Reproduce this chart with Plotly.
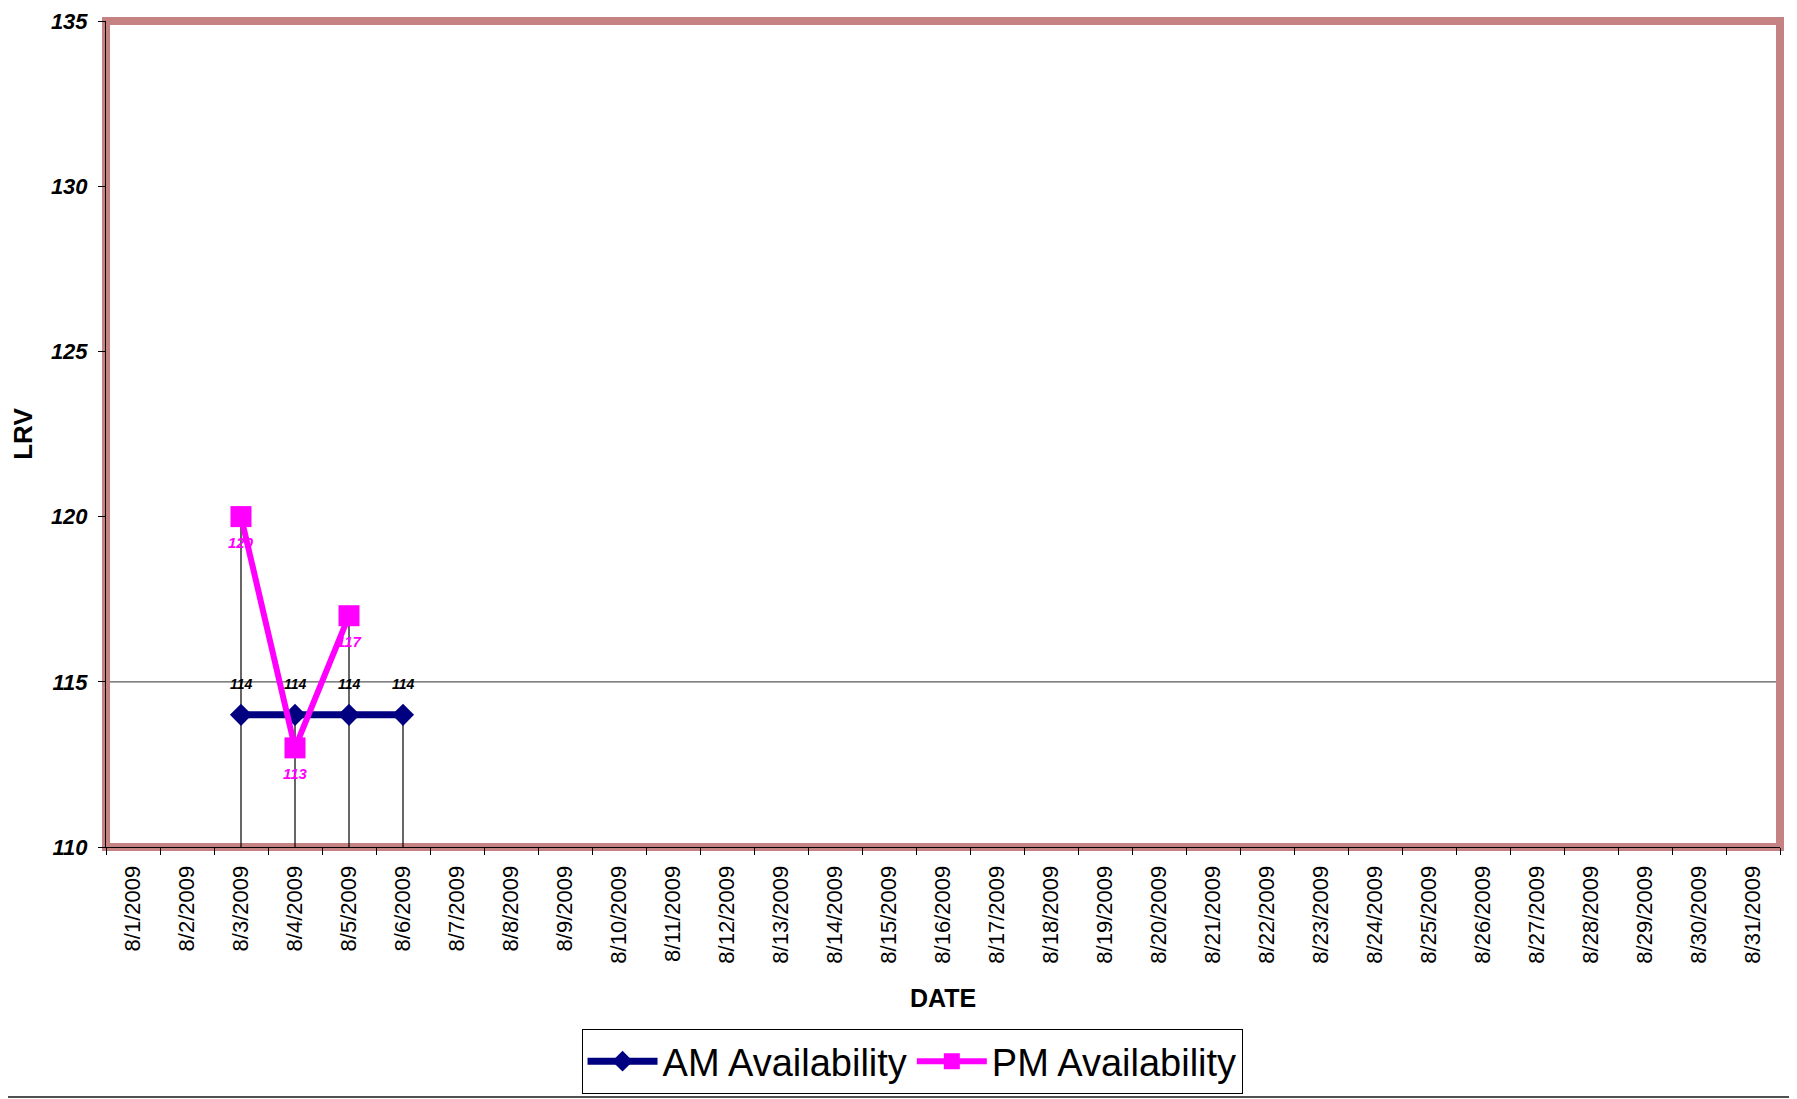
import plotly.graph_objects as go

# ---- data ----
dates = [f"8/{d}/2009" for d in range(1, 32)]
am_values = [None, None, 114, 114, 114, 114] + [None] * 25
pm_values = [None, None, 120, 113, 117] + [None] * 26
reference_level = 115
y_min, y_max = 110, 135
y_ticks = [110, 115, 120, 125, 130, 135]

AM_NAME = "AM Availability"
PM_NAME = "PM Availability"
FONT = "Liberation Sans, Arial, sans-serif"

fig = go.Figure()

# drop lines from the highest point of each date down to the axis floor
drop_x, drop_y = [], []
for d, a, p in zip(dates, am_values, pm_values):
    vals = [v for v in (a, p) if v is not None]
    if vals:
        drop_x += [d, d, None]
        drop_y += [max(vals), y_min, None]
fig.add_trace(go.Scatter(x=drop_x, y=drop_y, mode="lines",
                         line=dict(color="black", width=1.2),
                         showlegend=False, hoverinfo="skip"))

fig.add_trace(go.Scatter(x=dates, y=am_values, mode="lines+markers", name=AM_NAME,
                         line=dict(color="#000080", width=7),
                         marker=dict(symbol="diamond", size=17, color="#000080"),
                         connectgaps=False))
fig.add_trace(go.Scatter(x=dates, y=pm_values, mode="lines+markers", name=PM_NAME,
                         line=dict(color="#FF00FF", width=6),
                         marker=dict(symbol="square", size=21, color="#FF00FF"),
                         connectgaps=False))

# data labels
annotations = []
for d, v in zip(dates, am_values):
    if v is not None:
        annotations.append(dict(x=d, y=v, text=str(v), showarrow=False, yshift=31,
                                font=dict(family=FONT, size=14, color="black",
                                          weight="bold", style="italic")))
for d, v in zip(dates, pm_values):
    if v is not None:
        annotations.append(dict(x=d, y=v, text=str(v), showarrow=False, yshift=-26,
                                font=dict(family=FONT, size=15, color="#FF00FF",
                                          weight="bold", style="italic")))

shapes = [
    # reference line
    dict(type="line", xref="paper", yref="y", x0=0, x1=1,
         y0=reference_level, y1=reference_level,
         line=dict(color="#5a5a5a", width=1.2), layer="below"),
    # pink plot-area border
    dict(type="rect", xref="paper", yref="paper", x0=0, x1=1, y0=0, y1=1,
         line=dict(color="#C48282", width=8), layer="below"),
    # bottom frame line
    dict(type="line", xref="paper", yref="paper", x0=-0.07, x1=1.02,
         y0=-0.3027, y1=-0.3027, line=dict(color="#505050", width=2)),
]

fig.update_layout(
    width=1781, height=1091,
    margin=dict(l=98, r=9, t=13, b=252, autoexpand=False),
    paper_bgcolor="white", plot_bgcolor="rgba(0,0,0,0)",
    font=dict(family=FONT, color="black"),
    showlegend=True,
    legend=dict(orientation="h", x=0.4815, xanchor="center", y=-0.2203, yanchor="top",
                bordercolor="black", borderwidth=1, bgcolor="white",
                font=dict(family=FONT, size=38, color="black"),
                itemwidth=70),
    annotations=annotations,
    shapes=shapes,
)

fig.update_xaxes(
    type="category", categoryorder="array", categoryarray=dates,
    range=[-0.5, len(dates) - 0.5], automargin=False,
    showline=True, linecolor="black", linewidth=1,
    ticks="outside", tickson="boundaries", ticklen=7, tickcolor="black",
    ticklabelstandoff=9, ticklabeloverflow="allow",
    tickangle=-90, tickfont=dict(family=FONT, size=22, color="black"),
    showgrid=False, zeroline=False,
    title=dict(text="DATE", standoff=26,
               font=dict(family=FONT, size=25, color="black", weight="bold")),
)
fig.update_yaxes(
    range=[y_min, y_max], tickvals=y_ticks, automargin=False,
    showline=True, linecolor="black", linewidth=1,
    ticks="outside", ticklen=7, tickcolor="black", ticklabelstandoff=6,
    ticklabeloverflow="allow",
    tickfont=dict(family=FONT, size=22, color="black", weight="bold", style="italic"),
    showgrid=False, zeroline=False,
    title=dict(text="LRV", standoff=18,
               font=dict(family=FONT, size=26, color="black", weight="bold")),
)

fig.write_html("out.html")
